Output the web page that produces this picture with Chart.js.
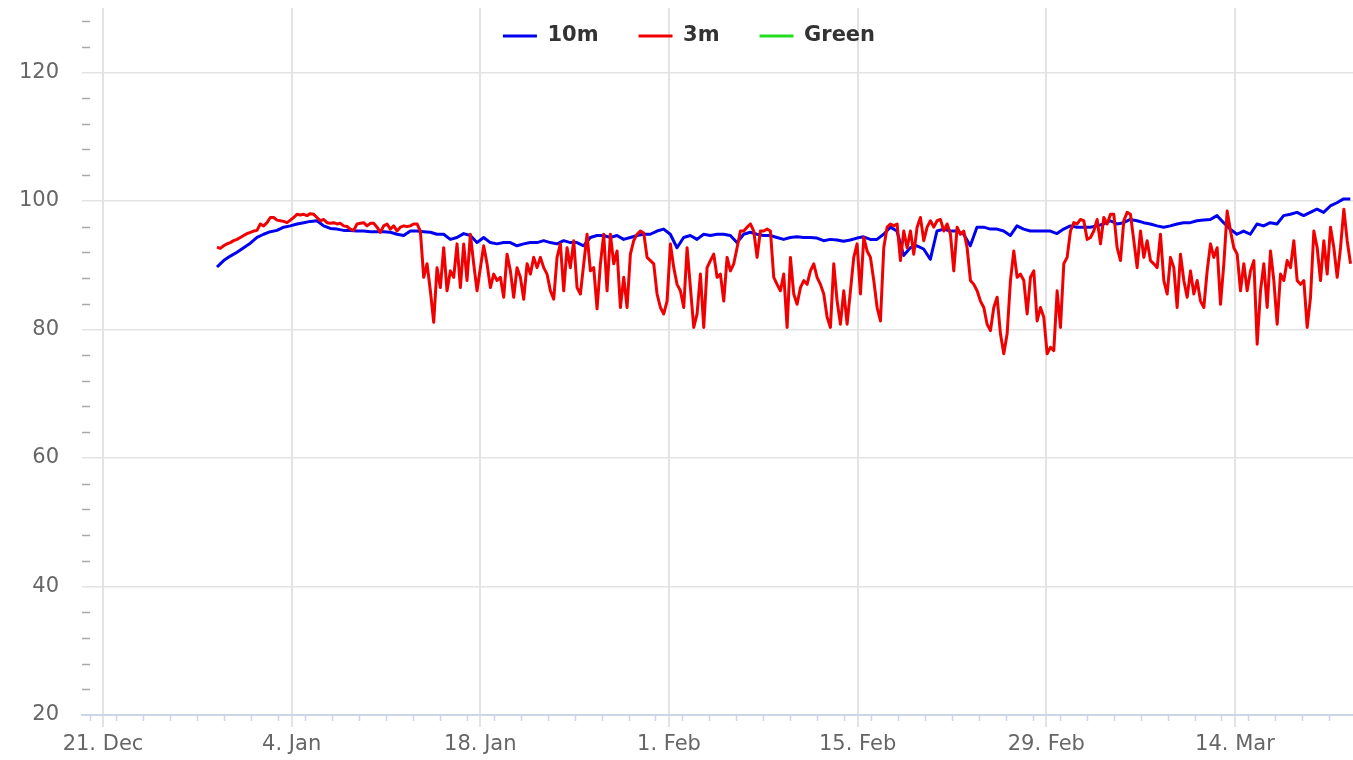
<!DOCTYPE html>
<html><head><meta charset="utf-8">
<script src="https://cdn.jsdelivr.net/npm/chart.js@4.4.1/dist/chart.umd.min.js"></script>
<style>html,body{margin:0;padding:0;background:#fff;overflow:hidden}#wrap{position:relative;width:1353px;height:760px}</style>
</head><body><div id="wrap"><canvas id="c" width="1353" height="760"></canvas></div>
<script>
// x values are days counted from 21 Dec
const xTickDays = [0, 14, 28, 42, 56, 70, 84];
const xTickLabels = ['21. Dec', '4. Jan', '18. Jan', '1. Feb', '15. Feb', '29. Feb', '14. Mar'];
const yTickValues = [20, 40, 60, 80, 100, 120];
const seriesNames = ['10m', '3m', 'Green'];

// 10m series: one reading every ~0.495 day starting at day 8.46
const start10m = 8.46, step10m = 0.4947;
const values10m = [
 89.7,90.7,91.4,92.0,92.7,93.4,94.3,94.8,95.2,95.4,95.9,96.1,96.4,96.6,96.8,96.9,96.1,95.7,95.6,95.4,
 95.4,95.3,95.3,95.2,95.2,95.2,95.1,94.8,94.6,95.3,95.3,95.2,95.1,94.8,94.8,94.0,94.3,94.9,94.6,93.5,94.3,
 93.5,93.3,93.5,93.5,93.0,93.3,93.5,93.5,93.8,93.5,93.3,93.8,93.5,93.5,93.0,94.3,94.6,94.6,94.3,94.6,
 94.0,94.3,94.6,94.8,94.8,95.3,95.6,94.8,92.7,94.3,94.6,94.0,94.8,94.6,94.8,
 94.8,94.6,93.5,94.8,95.1,94.8,94.6,94.6,94.3,94.0,94.3,94.4,94.3,94.3,94.2,93.8,94.0,93.9,93.7,93.9,
 94.2,94.4,94.0,94.0,94.8,95.9,95.3,91.5,92.7,93.0,92.5,90.9,95.3,95.6,95.3,95.3,94.8,93.0,95.9,95.9,
 95.6,95.6,95.3,94.6,96.1,95.6,95.3,95.3,
 95.3,95.3,94.9,95.6,96.1,95.9,95.9,95.9,96.1,96.4,96.9,96.4,96.6,97.1,96.9,96.6,96.4,96.1,95.9,96.1,
 96.4,96.6,96.6,96.9,97.0,97.1,97.7,96.6,95.6,94.8,95.3,94.8,96.4,96.1,96.6,96.4,97.7,97.9,98.2,97.7,
 98.2,98.7,98.2,99.2,99.7,100.3,100.3
];

// 3m series: one reading every ~0.247 day starting at day 8.46
const start3m = 8.46, step3m = 0.2474;
const values3m = [
 92.8,92.6,93.0,93.3,93.5,93.8,94.0,94.3,94.6,94.9,95.1,95.3,95.4,96.4,96.1,96.6,97.4,97.4,97.0,96.9,
 96.8,96.6,97.0,97.4,97.9,97.8,97.9,97.7,98.0,97.9,97.4,96.9,97.1,96.6,96.5,96.6,96.4,96.5,96.1,96.0,
 95.6,95.4,96.4,96.5,96.6,96.1,96.5,96.5,95.9,95.1,96.1,96.4,95.6,96.1,95.3,
 95.9,96.1,96.0,96.1,96.4,96.4,95.3,88.1,90.2,86.0,81.1,89.6,86.5,92.7,86.0,89.1,88.1,93.3,86.5,93.3,
 87.6,94.8,90.2,86.0,89.6,93.0,90.2,86.5,88.6,87.6,88.1,85.0,91.7,89.1,85.0,89.6,88.1,84.7,90.2,88.6,
 91.2,89.6,91.2,89.6,88.6,86.0,84.7,91.2,93.3,86.0,92.7,89.6,93.8,86.5,85.5,90.2,94.8,89.1,89.6,83.2,
 90.2,94.8,86.0,94.8,90.2,92.2,83.4,88.1,83.4,91.7,93.8,94.8,95.3,95.0,91.2,90.7,90.2,85.5,83.4,82.4,
 84.4,93.3,89.6,87.0,86.0,83.4,92.7,86.5,80.3,82.4,88.6,80.3,89.6,90.7,91.7,88.1,
 88.6,84.4,91.2,89.1,90.2,92.7,95.3,95.3,95.9,96.4,95.3,91.2,95.3,95.3,95.6,95.3,88.1,87.0,86.0,88.6,
 80.3,91.2,85.5,83.9,86.5,87.6,87.0,89.1,90.2,88.1,87.0,85.5,81.9,80.3,90.2,84.4,80.8,86.0,80.8,86.0,
 91.2,93.3,85.5,94.3,92.2,91.2,87.6,83.4,81.3,92.7,95.9,96.4,96.1,96.4,90.7,95.3,92.7,95.3,91.7,95.9,
 97.4,93.8,95.9,96.9,95.9,96.9,97.1,95.3,96.4,94.8,89.1,95.9,94.8,95.3,92.7,87.6,87.0,86.0,84.4,83.4,
 80.8,79.8,83.4,85.0,79.3,76.2,79.3,87.6,92.2,88.1,88.6,87.6,82.4,88.1,89.1,81.3,
 83.4,81.9,76.2,77.2,76.7,86.0,80.3,90.2,91.2,95.3,96.6,96.4,97.1,96.9,94.0,94.3,95.3,97.1,93.3,97.4,
 96.4,97.9,97.9,92.7,90.7,96.9,98.2,97.9,93.8,89.6,95.3,91.2,93.8,90.7,90.2,89.6,94.8,87.6,85.5,91.2,
 89.6,83.4,91.7,87.6,85.0,89.1,85.5,87.6,84.4,83.4,89.1,93.3,91.2,92.7,83.9,90.2,98.4,95.3,92.7,91.7,
 86.0,90.2,86.0,89.1,90.7,77.7,86.0,90.2,83.4,92.2,87.6,80.8,88.6,87.6,90.7,89.6,93.8,87.6,87.0,87.6,
 80.3,85.0,95.3,92.7,87.6,93.8,88.6,95.9,92.7,88.1,92.7,98.7,93.8,90.2
];

const valuesGreen = [];

const toPoints = (start, step, vals) => vals.map((v, i) => ({ x: start + i * step, y: v }));

const FONT = 'DejaVu Sans, Verdana, sans-serif';

const minorTicks = {
  id: 'minorTicks',
  afterDraw(chart) {
    const { ctx, chartArea: a, scales: { x, y } } = chart;
    ctx.save();
    ctx.strokeStyle = '#ccd6eb';
    ctx.lineWidth = 1.5;
    for (let d = -1; d <= 93; d += 2) {
      const px = Math.round(x.getPixelForValue(d)) + 0.5;
      if (px < a.left || px > a.right) continue;
      ctx.beginPath(); ctx.moveTo(px, a.bottom); ctx.lineTo(px, a.bottom + 6); ctx.stroke();
    }
    ctx.strokeStyle = '#a8a8a8';
    ctx.lineWidth = 1.5;
    for (let v = 24; v < 130; v += 4) {
      if (v % 20 === 0) continue;
      const py = Math.round(y.getPixelForValue(v)) + 0.5;
      ctx.beginPath(); ctx.moveTo(a.left, py); ctx.lineTo(a.left + 8, py); ctx.stroke();
    }
    ctx.restore();
  }
};

const legendPlacement = {
  id: 'legendPlacement',
  beforeLayout(chart) {
    const lg = chart.legend;
    if (lg && !lg._flat) {
      const fit = lg.fit;
      lg.fit = function () { fit.call(this); this.height = 0; };
      lg._flat = true;
    }
  },
  afterLayout(chart) {
    const lg = chart.legend;
    if (!lg) return;
    lg.top = -14.5; lg.bottom = 90;
    lg.left += 12.5; lg.right += 12.5;
  }
};

new Chart(document.getElementById('c'), {
  type: 'line',
  data: {
    datasets: [
      { label: seriesNames[0], data: toPoints(start10m, step10m, values10m), borderColor: '#0000f0', backgroundColor: '#0000f0',
        borderWidth: 3, pointRadius: 0, tension: 0, borderJoinStyle: 'round', order: 1 },
      { label: seriesNames[1], data: toPoints(start3m, step3m, values3m), borderColor: '#f00000', backgroundColor: '#f00000',
        borderWidth: 3, pointRadius: 0, tension: 0, borderJoinStyle: 'round', order: 0 },
      { label: seriesNames[2], data: valuesGreen, borderColor: '#22dd22', backgroundColor: '#22dd22',
        borderWidth: 3, pointRadius: 0, order: 2 }
    ]
  },
  options: {
    responsive: false,
    animation: false,
    devicePixelRatio: 1,
    layout: { padding: { top: 8, left: 0, right: 0, bottom: 0 } },
    plugins: {
      legend: {
        position: 'top',
        labels: {
          font: { family: FONT, size: 21, weight: 'bold' },
          color: '#333333',
          boxWidth: 34,
          boxHeight: 3,
          padding: 40,
          generateLabels: (chart) => chart.data.datasets.map((ds, i) => ({
            text: ds.label, fillStyle: ds.borderColor, strokeStyle: ds.borderColor,
            lineWidth: 0, hidden: false, datasetIndex: i, fontColor: '#333333'
          }))
        }
      },
      tooltip: { enabled: false }
    },
    scales: {
      x: {
        type: 'linear',
        min: -1.558,
        max: 92.76,
        afterBuildTicks: (s) => { s.ticks = xTickDays.map(v => ({ value: v })); },
        afterFit: (s) => { s.height = 45; s.paddingLeft = 0; s.paddingRight = 0; },
        ticks: {
          callback: (v) => { const k = xTickDays.indexOf(v); return k >= 0 ? xTickLabels[k] : ''; },
          font: { family: FONT, size: 21 },
          color: '#666666',
          padding: 5,
          maxRotation: 0,
          autoSkip: false
        },
        grid: { color: '#e3e3e3', lineWidth: 2, drawTicks: true, tickLength: 12, tickColor: '#e3e3e3' },
        border: { display: true, color: '#ccd6eb', width: 2 }
      },
      y: {
        min: 20,
        max: 130,
        afterBuildTicks: (s) => { s.ticks = yTickValues.map(v => ({ value: v })); },
        afterFit: (s) => { s.width = 82; s.paddingTop = 0; s.paddingBottom = 0; },
        ticks: { font: { family: FONT, size: 21 }, color: '#666666', padding: 23 },
        grid: { color: '#e3e3e3', lineWidth: 1.5, drawTicks: false },
        border: { display: false }
      }
    }
  },
  plugins: [minorTicks, legendPlacement]
});
</script>
</body></html>
